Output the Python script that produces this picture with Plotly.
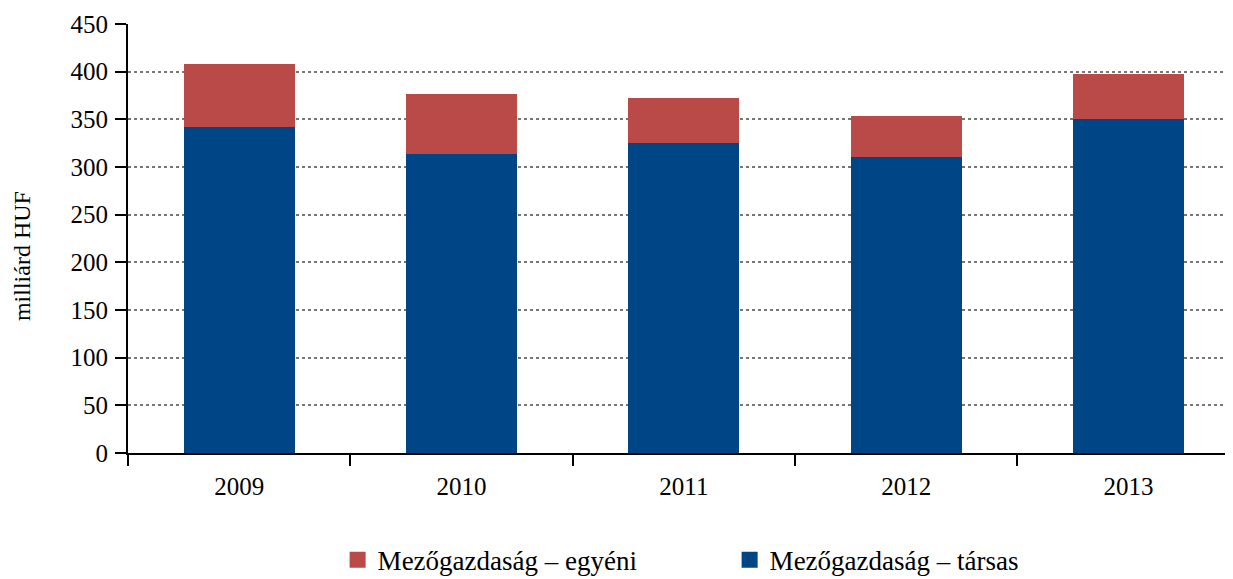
import plotly.graph_objects as go

years = ["2009", "2010", "2011", "2012", "2013"]
tarsas = [342, 313.6, 325, 310.5, 350.4]
egyeni = [66, 63, 47.4, 43, 47.2]

name_tarsas = "Mezőgazdaság – társas"
name_egyeni = "Mezőgazdaság – egyéni"
y_title = "milliárd HUF"
y_ticks = [0, 50, 100, 150, 200, 250, 300, 350, 400, 450]

BLUE = "#004586"
RED = "#B94A48"
FONT = "Liberation Serif"

fig = go.Figure()
fig.add_trace(go.Bar(x=years, y=tarsas, name=name_tarsas, marker_color=BLUE,
                     marker_line_width=0, width=0.5, showlegend=False))
fig.add_trace(go.Bar(x=years, y=egyeni, name=name_egyeni, marker_color=RED,
                     marker_line_width=0, width=0.5, showlegend=False))
# legend entries (larger square swatches)
fig.add_trace(go.Scatter(x=[None], y=[None], mode="markers", name=name_egyeni,
                         marker=dict(symbol="square", size=16, color=RED)))
fig.add_trace(go.Scatter(x=[None], y=[None], mode="markers", name=name_tarsas,
                         marker=dict(symbol="square", size=16, color=BLUE)))

fig.update_layout(
    barmode="stack",
    width=1225, height=571,
    margin=dict(l=120, r=0, t=16, b=126, autoexpand=False),
    plot_bgcolor="white", paper_bgcolor="white",
    font=dict(family=FONT, size=25, color="black"),
    legend=dict(orientation="h", traceorder="normal", x=0.1897, xanchor="left",
                y=-0.250, yanchor="middle", font=dict(family=FONT, size=27),
                entrywidth=347, entrywidthmode="pixels", itemsizing="trace"),
    showlegend=True,
    annotations=[dict(text=y_title, textangle=-90, xref="paper", yref="paper",
                      x=0, y=0.459, xanchor="center", yanchor="middle", xshift=-106,
                      showarrow=False, font=dict(family=FONT, size=24))],
)
fig.update_xaxes(type="category", range=[-0.5, 4.47], showline=True, linecolor="black",
                 linewidth=2, ticks="outside", ticklen=11, tickwidth=2, tickcolor="black",
                 tickson="boundaries", showgrid=False, automargin=False,
                 ticklabelstandoff=10, tickfont=dict(family=FONT, size=25))
fig.update_yaxes(range=[0, 450], tickvals=y_ticks, showline=True, linecolor="black",
                 linewidth=2, ticks="outside", ticklen=11, tickwidth=2, tickcolor="black",
                 showgrid=True, gridcolor="#777777", griddash="dot", gridwidth=1.5,
                 zeroline=False, automargin=False, ticklabelstandoff=2,
                 tickfont=dict(family=FONT, size=25))

fig.write_html("out.html")
